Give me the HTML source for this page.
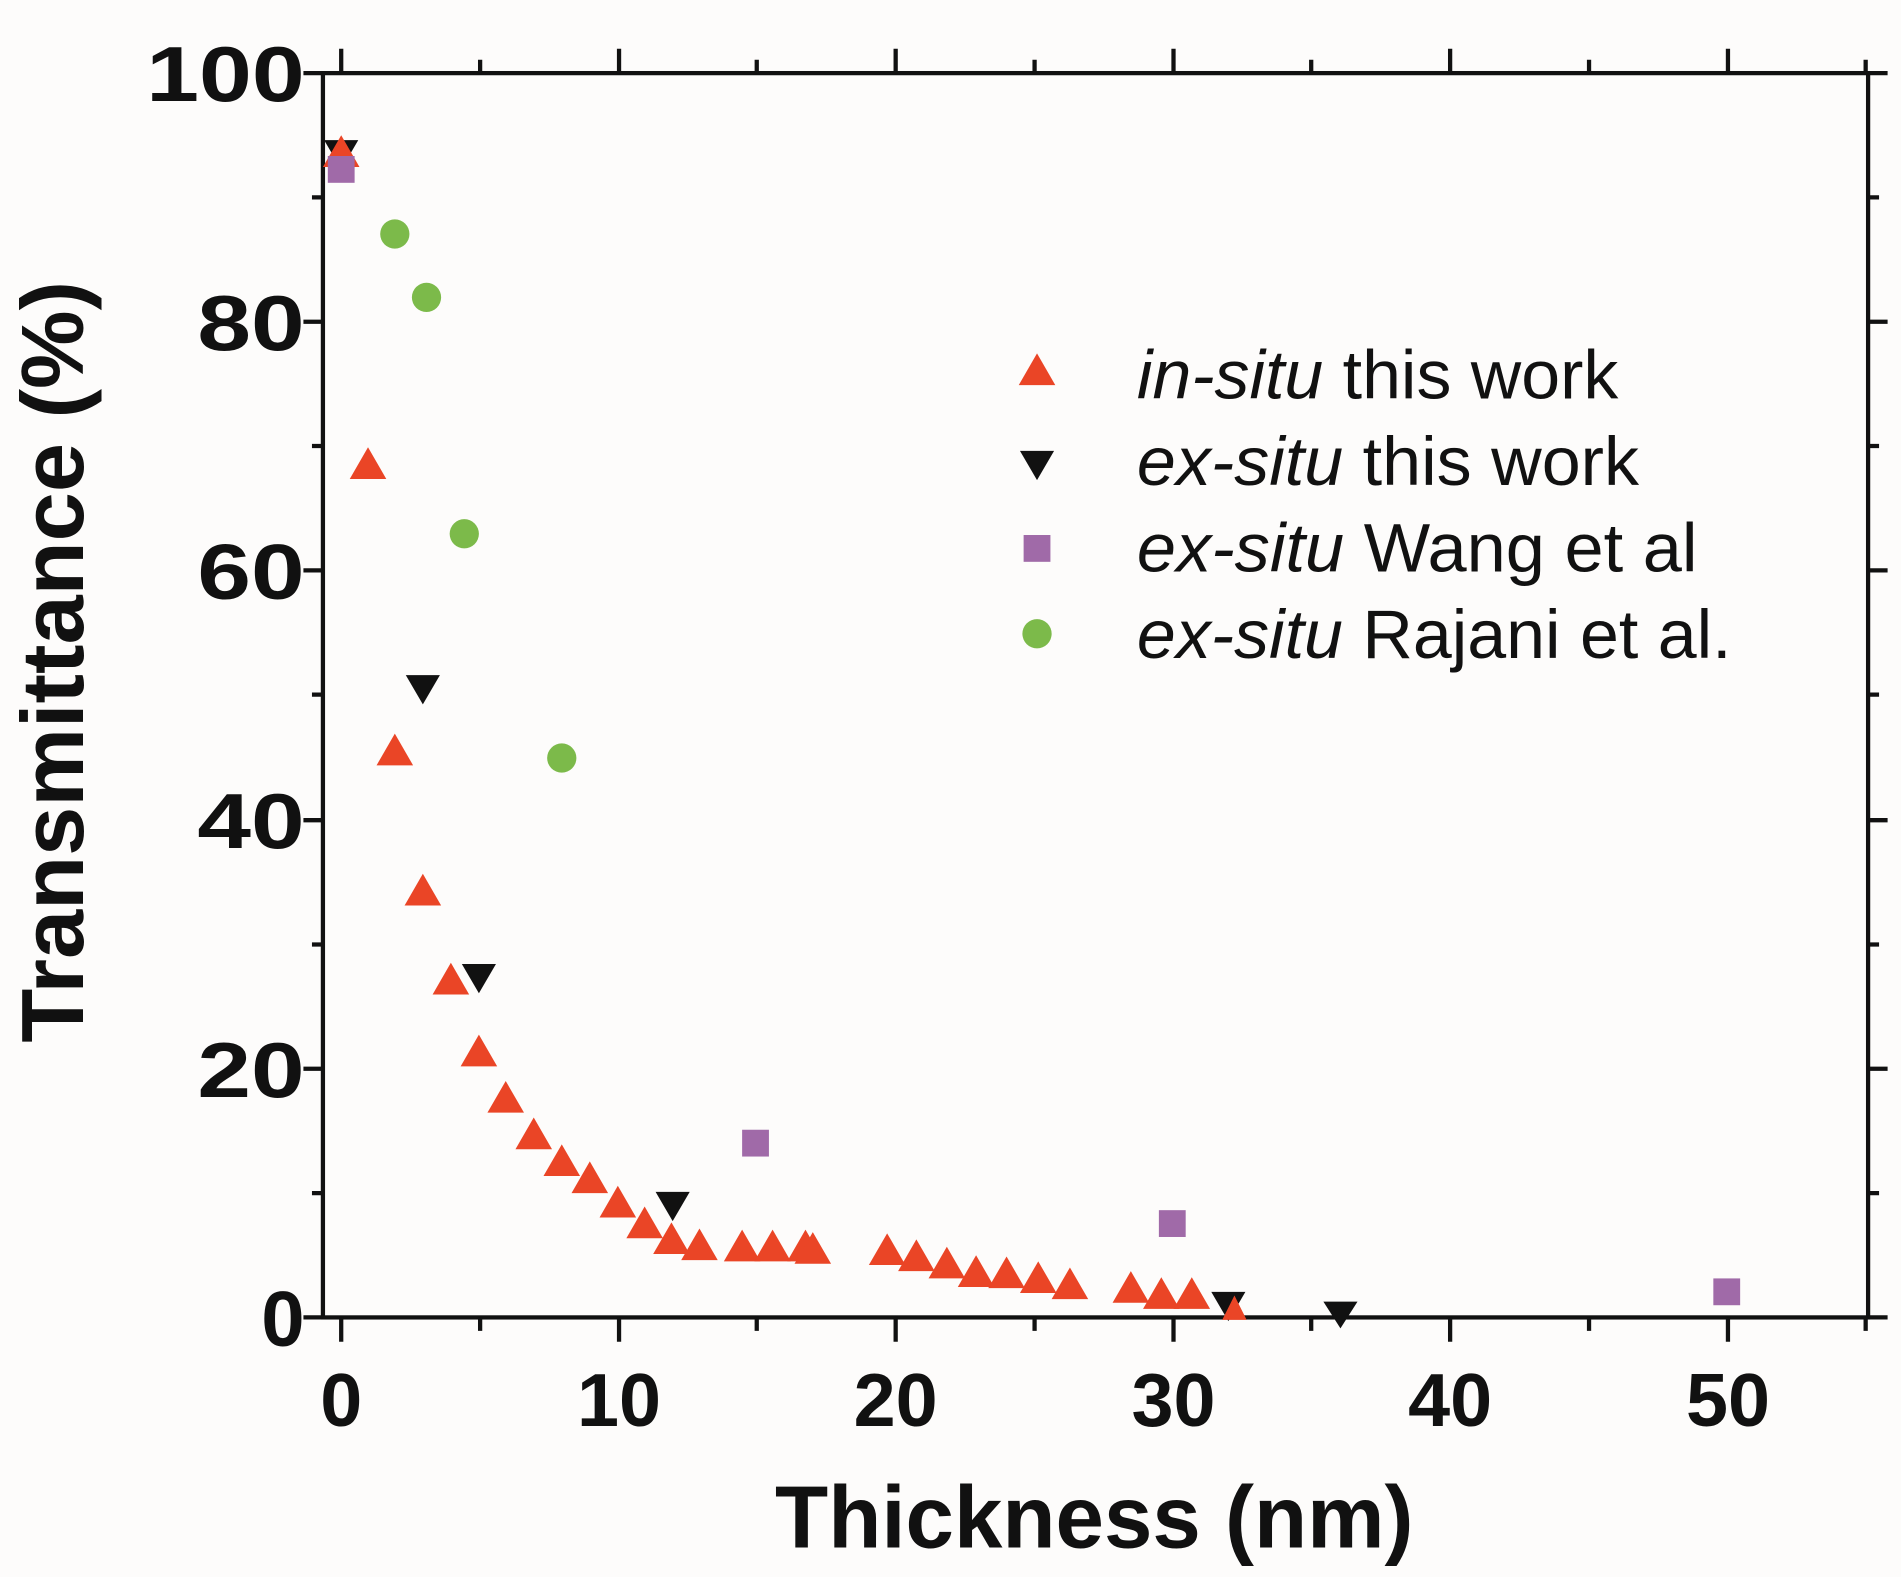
<!DOCTYPE html>
<html><head><meta charset="utf-8"><style>html,body{margin:0;padding:0;background:#fff}svg{display:block}</style></head>
<body>
<svg width="1901" height="1577" viewBox="0 0 1560 1294" preserveAspectRatio="none" xmlns="http://www.w3.org/2000/svg" font-family="Liberation Sans, Arial, sans-serif">
<rect width="1560" height="1294" fill="#fdfcfb"/>
<g stroke="#111" stroke-width="3.5" fill="none">
<rect x="265" y="60" width="1268" height="1021"/>
<path d="M265 60h-16M265 264h-16M265 468h-16M265 673h-16M265 877h-16M265 1081h-16
M265 162h-9M265 366h-9M265 570h-9M265 775h-9M265 979h-9
M1533 60h16M1533 264h16M1533 468h16M1533 673h16M1533 877h16M1533 1081h16
M1533 162h9M1533 366h9M1533 570h9M1533 775h9M1533 979h9"/>
<path d="M280 1081v20M508 1081v20M735 1081v20M963 1081v20M1190 1081v20M1418 1081v20
M394 1081v11M621 1081v11M849 1081v11M1076 1081v11M1304 1081v11M1531 1081v11
M280 60v-20M508 60v-20M735 60v-20M963 60v-20M1190 60v-20M1418 60v-20
M394 60v-11M621 60v-11M849 60v-11M1076 60v-11M1304 60v-11M1531 60v-11"/>
</g>
<g font-weight="bold" font-size="64" fill="#111" text-anchor="end">
<text x="250" y="83" textLength="130" lengthAdjust="spacingAndGlyphs">100</text>
<text x="250" y="287" textLength="88" lengthAdjust="spacingAndGlyphs">80</text>
<text x="250" y="491" textLength="88" lengthAdjust="spacingAndGlyphs">60</text>
<text x="250" y="696" textLength="88" lengthAdjust="spacingAndGlyphs">40</text>
<text x="250" y="900" textLength="88" lengthAdjust="spacingAndGlyphs">20</text>
<text x="250" y="1104">0</text>
</g>
<g font-weight="bold" font-size="62" fill="#111" text-anchor="middle">
<text x="280" y="1170">0</text>
<text x="508" y="1170">10</text>
<text x="735" y="1170">20</text>
<text x="963" y="1170">30</text>
<text x="1190" y="1170">40</text>
<text x="1418" y="1170">50</text>
<text x="898" y="1270" font-size="72" textLength="524" lengthAdjust="spacingAndGlyphs">Thickness (nm)</text>
<text transform="translate(68,543) rotate(-90)" font-size="72" textLength="625" lengthAdjust="spacingAndGlyphs">Transmittance (%)</text>
</g>
<g font-size="56" fill="#111">
<text x="933" y="327" textLength="395" lengthAdjust="spacingAndGlyphs"><tspan font-style="italic">in-situ</tspan> this work</text>
<text x="933" y="398" textLength="412" lengthAdjust="spacingAndGlyphs"><tspan font-style="italic">ex-situ</tspan> this work</text>
<text x="933" y="469" textLength="460" lengthAdjust="spacingAndGlyphs"><tspan font-style="italic">ex-situ</tspan> Wang et al</text>
<text x="933" y="540" textLength="488" lengthAdjust="spacingAndGlyphs"><tspan font-style="italic">ex-situ</tspan> Rajani et al.</text>
</g>
<polygon points="836,316 851,290 866,316" fill="#ea4526"/>
<polygon points="837,370 865,370 851,394" fill="#111"/>
<rect x="840" y="439" width="22" height="22" fill="#a06aa8"/>
<circle cx="851" cy="520" r="12" fill="#7cba4a"/>
<g fill="#7cba4a">
<circle cx="324" cy="192" r="12"/><circle cx="350" cy="244" r="12"/><circle cx="381" cy="438" r="12"/><circle cx="461" cy="622" r="12"/>
</g>
<g fill="#111">
<polygon points="266,115 294,115 280,139"/>
<polygon points="333,554 361,554 347,578"/>
<polygon points="379,791 407,791 393,815"/>
<polygon points="538,978 566,978 552,1002"/>
<polygon points="994,1060 1022,1060 1008,1084"/>
<polygon points="1086,1068 1114,1068 1100,1090"/>
</g>
<g fill="#ea4526">
<polygon points="265,137 280,111 295,137"/>
<polygon points="287,393 302,367 317,393"/>
<polygon points="309,628 324,602 339,628"/>
<polygon points="332,743 347,717 362,743"/>
<polygon points="355,816 370,790 385,816"/>
<polygon points="378,875 393,849 408,875"/>
<polygon points="400,913 415,887 430,913"/>
<polygon points="423,943 438,917 453,943"/>
<polygon points="446,965 461,939 476,965"/>
<polygon points="469,979 484,953 499,979"/>
<polygon points="492,999 507,973 522,999"/>
<polygon points="514,1016 529,990 544,1016"/>
<polygon points="536,1029 551,1003 566,1029"/>
<polygon points="559,1034 574,1008 589,1034"/>
<polygon points="594,1035 609,1009 624,1035"/>
<polygon points="619,1035 634,1009 649,1035"/>
<polygon points="646,1035 661,1009 676,1035"/>
<polygon points="652,1037 667,1011 682,1037"/>
<polygon points="713,1038 728,1012 743,1038"/>
<polygon points="737,1043 752,1017 767,1043"/>
<polygon points="762,1049 777,1023 792,1049"/>
<polygon points="786,1056 801,1030 816,1056"/>
<polygon points="811,1057 826,1031 841,1057"/>
<polygon points="837,1061 852,1035 867,1061"/>
<polygon points="863,1066 878,1040 893,1066"/>
<polygon points="913,1069 928,1043 943,1069"/>
<polygon points="938,1074 953,1048 968,1074"/>
<polygon points="963,1074 978,1048 993,1074"/>
<polygon points="1003,1083 1013,1063 1023,1083"/>
</g>
<g fill="#a06aa8">
<rect x="269" y="128" width="22" height="22"/>
<rect x="609" y="927" width="22" height="22"/>
<rect x="951" y="993" width="22" height="22"/>
<rect x="1406" y="1049" width="22" height="22"/>
</g>
</svg>
</body></html>
